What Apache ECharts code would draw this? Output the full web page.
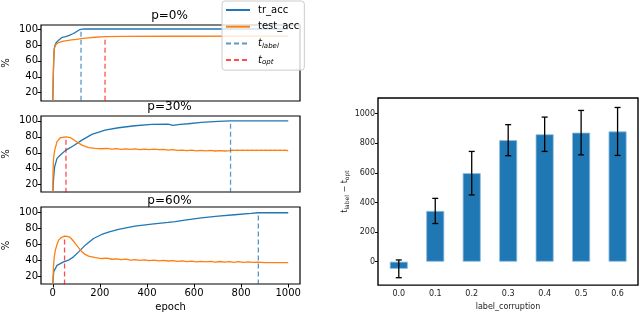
<!DOCTYPE html>
<html><head><meta charset="utf-8">
<script src="https://cdn.jsdelivr.net/npm/echarts@6/dist/echarts.min.js"></script>
<style>html,body{margin:0;padding:0;background:#fff}#c{width:640px;height:316px}</style>
</head><body><div id="c"></div>
<script>
// ---------- data ----------
const epochTicks = [0, 200, 400, 600, 800, 1000];
const pctTicks = [20, 40, 60, 80, 100];
const panelTitles = ['p=0%', 'p=30%', 'p=60%'];

const tr0 = [[0,10],[3,50],[6,75],[10,80],[15,83],[25,86],[40,89.5],[55,90.5],[70,92],[85,94],[95,95.5],[105,97.5],[115,99.3],[125,99.8],[140,100],[1000,100]];
const test0 = [[0,10],[2,40],[4,62],[6,74],[9,78],[15,81],[25,83],[40,84.5],[60,85.5],[80,86.3],[100,87],[120,87.8],[150,88.8],[180,89.6],[220,90.3],[300,90.7],[500,90.9],[1000,91]];

const tr30 = [[0,10],[4,30],[8,42.5],[18,53],[39,59],[56,63.3],[88,68.8],[124,75.8],[166,83],[222,88.3],[279,91.3],[349,93.8],[420,95.4],[490,95.8],[511,94.2],[540,95.6],[575,96.3],[631,98],[702,99.2],[755,100],[1000,100]];
const test30 = [[0,10],[1,35],[3,52],[8,63],[18,74],[32,78.8],[56,80],[74,79],[95,75],[124,69.6],[152,66.3],[180,65.4],[208,65],[230,65.4],[250,64.5],[270,65.1],[290,64.3],[310,64.9],[330,64.2],[350,64.8],[370,64.0],[390,64.6],[410,63.9],[430,64.5],[450,63.8],[470,64.3],[490,63.4],[510,63.9],[530,62.9],[550,63.4],[570,62.6],[590,63.2],[610,62.4],[630,63.0],[650,62.3],[670,62.9],[690,62.2],[710,62.8],[730,62.2],[755,62.7],
  [760,61.4],[765,63.2],[770,61.3],[775,63.1],[780,61.5],[785,63.3],[790,61.2],[795,63.0],[800,61.4],[805,63.2],[810,61.3],[815,63.1],[820,61.5],[825,63.3],[830,61.2],[835,63.0],[840,61.4],[845,63.2],[850,61.3],[855,63.1],[860,61.5],[865,63.3],[870,61.2],[875,63.0],[880,61.4],[885,63.2],[890,61.3],[895,63.1],[900,61.5],[905,63.3],[910,61.2],[915,63.0],[920,61.4],[925,63.2],[930,61.3],[935,63.1],[940,61.5],[945,63.3],[950,61.2],[955,63.0],[960,61.4],[965,63.2],[970,61.3],[975,63.1],[980,61.5],[985,63.3],[990,61.2],[995,63.0],[1000,62.2]];

const tr60 = [[0,10],[4,26],[18,34],[46,38.3],[67,40.4],[88,44.6],[110,50.8],[138,59.2],[173,67.5],[208,72.5],[240,75.8],[279,78.8],[349,82.9],[420,85.4],[490,87.5],[520,88.6],[561,90.4],[631,93.3],[702,95.4],[772,97.1],[842,98.8],[873,99.6],[1000,99.6]];
const test60 = [[0,10],[3,32],[6,44],[11,53],[18,60],[25,65.4],[35,68.5],[50,70.4],[62,70.2],[74,68.8],[85,65.3],[95,61.3],[110,55.8],[124,50.8],[138,47.6],[152,45.4],[180,43.6],[208,42.5],[230,42.9],[250,41.6],[270,42.1],[290,41.0],[310,41.7],[330,40.6],[350,41.2],[370,40.2],[390,40.9],[410,39.8],[430,40.5],[450,39.6],[470,40.3],[490,39.4],[510,40.0],[530,38.9],[550,39.6],[570,38.6],[590,39.3],[610,38.3],[630,39.0],[650,38.2],[670,38.9],[690,38.0],[710,38.8],[730,37.9],[750,38.6],[770,37.8],[790,38.5],[810,37.7],[830,38.3],[850,37.6],[873,38.0],[900,37.4],[950,37.5],[1000,37.3]];

const tLabel = [120, 755, 873];
const tLabelTop = [99.5, 100, 99.6];
const tOpt = [222, 56, 50];
const tOptTop = [90.4, 80, 70.4];

const corruption = ['0.0', '0.1', '0.2', '0.3', '0.4', '0.5', '0.6'];
const gapMean = [-48, 343, 598, 821, 861, 872, 880];
const gapErr = [60, 85, 147, 105, 116, 150, 162];
const gapTicks = [0, 200, 400, 600, 800, 1000];

// ---------- chart ----------
const FONT = 'DejaVu Sans';
const C0 = '#1f77b4', C1 = '#ff7f0e';
const trs = [tr0, tr30, tr60];
const tests = [test0, test30, test60];
const yRanges = [[9.6, 105], [10.9, 106], [10.7, 106.8]];
const leftGrids = [
  {left: 39, top: 25, width: 261, height: 76},
  {left: 39, top: 116, width: 261, height: 76},
  {left: 39, top: 207, width: 261, height: 77}
];
const titleTops = [10, 101, 195];
const plain = v => String(v);

const grid = leftGrids.map(g => Object.assign({show: true, borderColor: '#000', borderWidth: 1.2, backgroundColor: 'transparent'}, g));
grid.push({left: 378, top: 98, width: 260, height: 195, show: true, borderColor: '#000', borderWidth: 1.4});

const xAxis = [], yAxis = [], series = [];
for (let i = 0; i < 3; i++) {
  const last = i === 2;
  xAxis.push({
    type: 'value', gridIndex: i, min: -50, max: 1050,
    axisLine: {show: false, onZero: false}, splitLine: {show: false},
    axisTick: {show: last, inside: false, length: 3.5, customValues: epochTicks, lineStyle: {color: '#000'}},
    axisLabel: {show: last, customValues: epochTicks, formatter: plain, color: '#000', fontSize: 10, fontFamily: FONT, margin: 4.5},
    name: last ? 'epoch' : '', nameLocation: 'middle', nameGap: 18,
    nameTextStyle: {color: '#000', fontSize: 10, fontFamily: FONT}
  });
  yAxis.push({
    type: 'value', gridIndex: i, min: yRanges[i][0], max: yRanges[i][1],
    axisLine: {show: false, onZero: false}, splitLine: {show: false},
    axisTick: {show: true, inside: false, length: 3.5, customValues: pctTicks, lineStyle: {color: '#000'}},
    axisLabel: {customValues: pctTicks, formatter: plain, color: '#000', fontSize: 10, fontFamily: FONT, margin: 3},
    name: '%', nameLocation: 'middle', nameGap: 30, nameRotate: 90,
    nameTextStyle: {color: '#000', fontSize: 10, fontFamily: FONT}
  });
  series.push({
    name: 'tr_acc', type: 'line', xAxisIndex: i, yAxisIndex: i, data: trs[i],
    symbol: 'none', lineStyle: {color: C0, width: 1.3}, itemStyle: {color: C0}, z: 2, animation: false
  });
  series.push({
    name: 'test_acc', type: 'line', xAxisIndex: i, yAxisIndex: i, data: tests[i],
    symbol: 'none', lineStyle: {color: C1, width: 1.3}, itemStyle: {color: C1}, z: 3, animation: false
  });
  series.push({
    name: 't_label', type: 'line', xAxisIndex: i, yAxisIndex: i,
    data: [[tLabel[i], 0], [tLabel[i], tLabelTop[i]]],
    symbol: 'none', lineStyle: {color: 'rgba(31,119,180,0.75)', width: 1.3, type: [5, 3]},
    itemStyle: {color: 'rgba(31,119,180,0.75)'}, z: 4, animation: false
  });
  series.push({
    name: 't_opt', type: 'line', xAxisIndex: i, yAxisIndex: i,
    data: [[tOpt[i], 0], [tOpt[i], tOptTop[i]]],
    symbol: 'none', lineStyle: {color: 'rgba(255,0,0,0.7)', width: 1.3, type: [5, 3]},
    itemStyle: {color: 'rgba(255,0,0,0.7)'}, z: 5, animation: false
  });
}

// right chart
const idx = corruption.map((_, i) => i);
xAxis.push({
  type: 'value', gridIndex: 3, min: -0.57, max: 6.56,
  axisLine: {show: false, onZero: false}, splitLine: {show: false},
  axisTick: {show: false},
  axisLabel: {customValues: idx, formatter: v => corruption[Math.round(v)], color: '#222', fontSize: 8, fontFamily: FONT, margin: 5},
  name: 'label_corruption', nameLocation: 'middle', nameGap: 14,
  nameTextStyle: {color: '#222', fontSize: 8, fontFamily: FONT}
});
yAxis.push({
  type: 'value', gridIndex: 3, min: -158, max: 1106,
  axisLine: {show: false, onZero: false}, splitLine: {show: false},
  axisTick: {show: true, length: 3, customValues: gapTicks, lineStyle: {color: '#000'}},
  axisLabel: {customValues: gapTicks, formatter: plain, color: '#222', fontSize: 8, fontFamily: FONT, margin: 3},
  name: '{t|t}{s|label}{m| − }{t|t}{s|opt}', nameLocation: 'middle', nameGap: 28, nameRotate: 90,
  nameTextStyle: {color: '#222', fontSize: 8, fontFamily: FONT,
    rich: {t: {fontSize: 8, fontFamily: FONT, color: '#222'},
           s: {fontSize: 6, fontFamily: FONT, color: '#222', padding: [4, 0, 0, 0]},
           m: {fontSize: 8, fontFamily: FONT, color: '#222'}}}
});
series.push({
  name: 'gap', type: 'bar', xAxisIndex: 3, yAxisIndex: 3,
  data: gapMean.map((v, i) => [i, v]), barWidth: 18,
  itemStyle: {color: C0, borderColor: '#8fbde0', borderWidth: 0.8}, animation: false
});
series.push({
  name: 'err', type: 'custom', xAxisIndex: 3, yAxisIndex: 3,
  data: gapMean.map((v, i) => [i, v - gapErr[i], v + gapErr[i]]),
  renderItem: function (params, api) {
    const x = api.value(0);
    const pHi = api.coord([x, api.value(2)]);
    const pLo = api.coord([x, api.value(1)]);
    const cap = 3;
    const st = {stroke: '#000', lineWidth: 1.3};
    return {type: 'group', children: [
      {type: 'line', shape: {x1: pHi[0], y1: pHi[1], x2: pLo[0], y2: pLo[1]}, style: st},
      {type: 'line', shape: {x1: pHi[0] - cap, y1: pHi[1], x2: pHi[0] + cap, y2: pHi[1]}, style: st},
      {type: 'line', shape: {x1: pLo[0] - cap, y1: pLo[1], x2: pLo[0] + cap, y2: pLo[1]}, style: st}
    ]};
  },
  z: 10, animation: false
});

const legendRich = {
  t: {fontSize: 10, fontFamily: FONT, fontStyle: 'italic', color: '#000', lineHeight: 14},
  s: {fontSize: 7, fontFamily: FONT, fontStyle: 'italic', color: '#000', lineHeight: 9, padding: [5, 0, 0, 0]}
};

const option = {
  animation: false,
  backgroundColor: '#fff',
  title: panelTitles.map((t, i) => ({
    text: t, left: 169.5, top: titleTops[i], textAlign: 'center', padding: 0,
    textStyle: {fontSize: 12, fontWeight: 'normal', color: '#000', fontFamily: FONT}
  })),
  legend: {
    orient: 'vertical', left: 222, top: 1,
    data: ['tr_acc', 'test_acc', 't_label', 't_opt'],
    itemWidth: 24, itemHeight: 14, itemGap: 2.7,
    padding: [2, 5, 3, 3],
    itemStyle: {opacity: 0},
    backgroundColor: 'rgba(255,255,255,0.8)', borderColor: '#cccccc', borderWidth: 1, borderRadius: 3,
    selectedMode: false,
    formatter: n => n === 't_label' ? '{t|t}{s|label}' : (n === 't_opt' ? '{t|t}{s|opt}' : n),
    textStyle: {fontSize: 10, fontFamily: FONT, color: '#000', lineHeight: 14, padding: [0, 0, 0, 3], rich: legendRich},
    z: 20
  },
  grid, xAxis, yAxis, series
};

const chart = echarts.init(document.getElementById('c'), null, {renderer: 'canvas'});
chart.setOption(option);
</script>
</body></html>
